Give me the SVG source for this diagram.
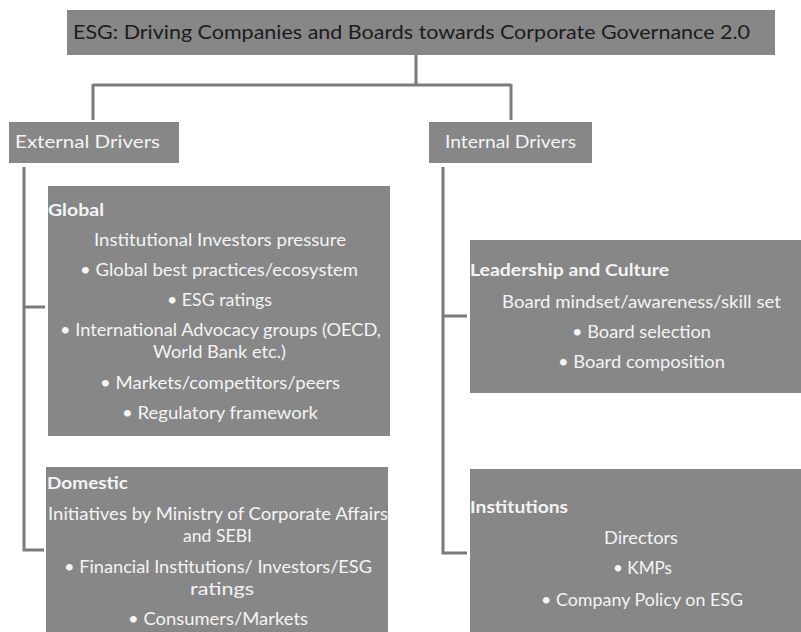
<svg xmlns="http://www.w3.org/2000/svg" width="801" height="632" viewBox="0 0 801 632">
  <style>
    .box { fill: #878787; }
    .link { fill: none; stroke: #7b7b7b; stroke-width: 3; }
    text { font-family: Lato, "Open Sans", "Liberation Sans", sans-serif; fill: #f4f4f4; }
    .title { fill: #1c1c1c; font-size: 20px; }
    .hdr { font-size: 18px; }
    .head { font-size: 17.5px; font-weight: bold; }
    .item { font-size: 17.5px; text-anchor: middle; }
  </style>
  <rect width="801" height="632" fill="#ffffff"/>

  <!-- connectors -->
  <g id="connectors">
    <path class="link" d="M416 55 V85 M93 85 H511 M93 84 V120 M511 84 V120"/>
    <path class="link" d="M24 167 V550 H44 M24 307 H45"/>
    <path class="link" d="M443 167 V553 H467 M443 316 H467"/>
  </g>

  <g id="title">
    <rect class="box" x="67" y="10" width="708" height="45"/>
    <text class="title" x="73" y="39" textLength="677" lengthAdjust="spacingAndGlyphs">ESG: Driving Companies and Boards towards Corporate Governance 2.0</text>
  </g>

  <g id="external">
    <rect class="box" x="9" y="122" width="170" height="41"/>
    <text class="hdr" x="15" y="148" textLength="145" lengthAdjust="spacingAndGlyphs">External Drivers</text>
  </g>

  <g id="internal">
    <rect class="box" x="429" y="122" width="163" height="41"/>
    <text class="hdr" x="445" y="148" textLength="131" lengthAdjust="spacingAndGlyphs">Internal Drivers</text>
  </g>

  <g id="global">
    <rect class="box" x="48" y="186" width="342" height="250"/>
    <text class="head" x="48" y="216" textLength="56" lengthAdjust="spacingAndGlyphs">Global</text>
    <text class="item" x="220" y="246" textLength="252" lengthAdjust="spacingAndGlyphs">Institutional Investors pressure</text>
    <text class="item" x="219" y="276" textLength="278" lengthAdjust="spacingAndGlyphs">• Global best practices/ecosystem</text>
    <text class="item" x="219.5" y="306" textLength="105" lengthAdjust="spacingAndGlyphs">• ESG ratings</text>
    <text class="item" x="220.5" y="336" textLength="321" lengthAdjust="spacingAndGlyphs">• International Advocacy groups (OECD,</text>
    <text class="item" x="219.5" y="358" textLength="133" lengthAdjust="spacingAndGlyphs">World Bank etc.)</text>
    <text class="item" x="220" y="389" textLength="240" lengthAdjust="spacingAndGlyphs">• Markets/competitors/peers</text>
    <text class="item" x="220" y="419" textLength="196" lengthAdjust="spacingAndGlyphs">• Regulatory framework</text>
  </g>

  <g id="domestic">
    <rect class="box" x="46" y="467" width="342" height="170"/>
    <text class="head" x="47" y="489" textLength="81" lengthAdjust="spacingAndGlyphs">Domestic</text>
    <text class="item" x="218" y="520" textLength="340" lengthAdjust="spacingAndGlyphs">Initiatives by Ministry of Corporate Affairs</text>
    <text class="item" x="217.5" y="542" textLength="69" lengthAdjust="spacingAndGlyphs">and SEBI</text>
    <text class="item" x="218" y="573" textLength="308" lengthAdjust="spacingAndGlyphs">• Financial Institutions/ Investors/ESG</text>
    <text class="item" x="222" y="595" textLength="64" lengthAdjust="spacingAndGlyphs">ratings</text>
    <text class="item" x="218" y="625" textLength="180" lengthAdjust="spacingAndGlyphs">• Consumers/Markets</text>
  </g>

  <g id="leadership">
    <rect class="box" x="470" y="240" width="342" height="153"/>
    <text class="head" x="470" y="276" textLength="199" lengthAdjust="spacingAndGlyphs">Leadership and Culture</text>
    <text class="item" x="641.5" y="308" textLength="279" lengthAdjust="spacingAndGlyphs">Board mindset/awareness/skill set</text>
    <text class="item" x="641.5" y="338" textLength="139" lengthAdjust="spacingAndGlyphs">• Board selection</text>
    <text class="item" x="641.5" y="368" textLength="167" lengthAdjust="spacingAndGlyphs">• Board composition</text>
  </g>

  <g id="institutions">
    <rect class="box" x="470" y="469" width="342" height="170"/>
    <text class="head" x="470" y="513" textLength="98" lengthAdjust="spacingAndGlyphs">Institutions</text>
    <text class="item" x="641" y="544" textLength="74" lengthAdjust="spacingAndGlyphs">Directors</text>
    <text class="item" x="642.5" y="574" textLength="59" lengthAdjust="spacingAndGlyphs">• KMPs</text>
    <text class="item" x="642" y="606" textLength="202" lengthAdjust="spacingAndGlyphs">• Company Policy on ESG</text>
  </g>
</svg>
